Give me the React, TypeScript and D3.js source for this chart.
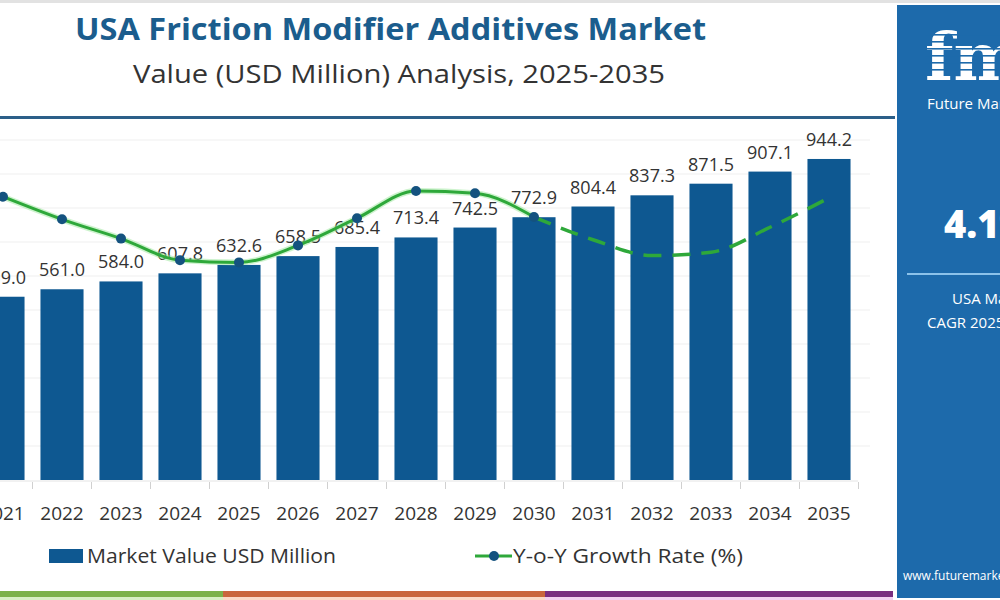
import * as d3 from 'd3';
import React from 'react';

const years = ['2021', '2022', '2023', '2024', '2025', '2026', '2027', '2028', '2029', '2030', '2031', '2032', '2033', '2034', '2035'];
const marketValues = [539.0, 561.0, 584.0, 607.8, 632.6, 658.5, 685.4, 713.4, 742.5, 772.9, 804.4, 837.3, 871.5, 907.1, 944.2];
// y-o-y growth (%)
const growthRates = [4.5, 4.3, 4.13, 3.94, 3.92, 4.07, 4.31, 4.55, 4.53, 4.32, 4.12, 3.98, 4.01, 4.23, 4.49];
const solidUntil = '2030';
const valueTicks = [100, 200, 300, 400, 500, 600, 700, 800, 900, 1000];

const FONT = '"Open Sans", "Noto Sans", sans-serif';

function App() {
    const baseY = 480;
    const topY = 140;

    const x = d3.scaleBand<string>()
        .domain(years)
        .range([-26.5, 858.5])
        .paddingInner(0.27)
        .paddingOuter(0.135);

    const y = d3.scaleLinear().domain([0, 1000]).range([baseY, topY]);
    const y2 = d3.scaleLinear().domain([2, 5]).range([baseY, topY]);

    const cx = (yr: string) => (x(yr) as number) + x.bandwidth() / 2;

    const pts: [number, number][] = years.map((yr, i) => [cx(yr), y2(growthRates[i])]);
    const cut = years.indexOf(solidUntil);
    const line = d3.line().curve(d3.curveMonotoneX);
    const solidPath = line(pts.slice(0, cut + 1)) || '';
    const dashPath = line(pts.slice(cut)) || '';

    const bottomBands = [
        { x0: 0, x1: 223, dark: '#7cb24a', light: '#d8efc4' },
        { x0: 223, x1: 545, dark: '#c9663d', light: '#fbd9c6' },
        { x0: 545, x1: 893, dark: '#7a2e80', light: '#f3d0f0' },
    ];

    return (
        <svg width={1000} height={600} style={{ position: 'absolute', left: 0, top: 0, background: '#fff' }}>
            <rect x={0} y={0} width={1000} height={3} fill="#e2e2e2" />

            {/* titles */}
            <text x={75} y={40} textLength={631} lengthAdjust="spacingAndGlyphs" fontFamily={FONT}
                fontWeight={700} fontSize={30} fill="#1b5d8d">
                USA Friction Modifier Additives Market
            </text>
            <text x={133} y={83} textLength={532} lengthAdjust="spacingAndGlyphs" fontFamily={FONT}
                fontSize={25} fill="#333">
                Value (USD Million) Analysis, 2025-2035
            </text>
            <rect x={0} y={116} width={895} height={3} fill="#2c5f89" />

            {/* gridlines */}
            {valueTicks.map(t => (
                <line key={t} x1={0} x2={870} y1={y(t)} y2={y(t)} stroke="#efefef" strokeWidth={1} />
            ))}

            {/* bars */}
            {years.map((yr, i) => (
                <rect key={yr} x={x(yr)} y={y(marketValues[i])} width={x.bandwidth()}
                    height={baseY - y(marketValues[i])} fill="#0e5891" />
            ))}

            {/* value labels */}
            {years.map((yr, i) => (
                <text key={'v' + yr} x={cx(yr)} y={y(marketValues[i]) - 13} textAnchor="middle"
                    fontFamily={FONT} fontSize={18} fill="#333">
                    {marketValues[i].toFixed(1)}
                </text>
            ))}

            {/* x axis */}
            <line x1={0} x2={858} y1={baseY + 1} y2={baseY + 1} stroke="#e4e4e4" />
            {years.map(yr => (
                <line key={'t' + yr} x1={cx(yr) + x.step() / 2} x2={cx(yr) + x.step() / 2}
                    y1={baseY + 2} y2={baseY + 9} stroke="#d0d0d0" />
            ))}
            {years.map(yr => (
                <text key={'l' + yr} x={cx(yr)} y={520} textAnchor="middle" fontFamily={FONT} fontSize={19} fill="#333">
                    {yr}
                </text>
            ))}

            {/* growth line */}
            <path d={solidPath} fill="none" stroke="#9be89b" strokeWidth={6} strokeOpacity={0.5} />
            <path d={solidPath} fill="none" stroke="#2ea83a" strokeWidth={3} />
            <path d={dashPath} fill="none" stroke="#2ea83a" strokeWidth={3.5} strokeDasharray="18,11" />
            {pts.slice(0, cut + 1).map((p, i) => (
                <circle key={'c' + i} cx={p[0]} cy={p[1]} r={5} fill="#14527f" />
            ))}

            {/* legend */}
            <rect x={49} y={549} width={34} height={14} fill="#0e5891" />
            <text x={87} y={563} textLength={249} lengthAdjust="spacingAndGlyphs" fontFamily={FONT}
                fontSize={20} fill="#333">Market Value USD Million</text>
            <line x1={475} x2={512} y1={556} y2={556} stroke="#2ea83a" strokeWidth={3} />
            <circle cx={494} cy={556} r={5} fill="#14527f" />
            <text x={513} y={563} textLength={230} lengthAdjust="spacingAndGlyphs" fontFamily={FONT}
                fontSize={20} fill="#333">Y-o-Y Growth Rate (%)</text>

            {/* bottom colour strip */}
            {bottomBands.map(b => (
                <g key={b.x0}>
                    <rect x={b.x0} y={591} width={b.x1 - b.x0} height={6} fill={b.dark} />
                    <rect x={b.x0} y={597} width={b.x1 - b.x0} height={3} fill={b.light} />
                </g>
            ))}

            {/* right panel */}
            <rect x={897} y={5} width={110} height={593} fill="#1d6aab" />
            <text x={925} y={80} fontFamily='"DejaVu Serif", serif' fontWeight={700} fontSize={66} fill="#fff">fmi</text>
            {[34, 41, 48, 55, 62, 69].map(s => (
                <rect key={s} x={925} y={s} width={80} height={1.6} fill="#1d6aab" />
            ))}
            <text x={927} y={109} fontFamily={FONT} fontSize={15} fill="#fff">Future Market Insights</text>
            <text x={944} y={238} fontFamily={FONT} fontWeight={800} fontSize={38} fill="#fff">4.1%</text>
            <rect x={907} y={273} width={100} height={2} fill="#8cc2ea" />
            <text x={952} y={304} fontFamily={FONT} fontSize={15} fill="#fff">USA Market</text>
            <text x={927} y={328} fontFamily={FONT} fontSize={15} fill="#fff">CAGR 2025-2035</text>
            <text x={903} y={580} fontFamily={FONT} fontSize={12} fill="#fff">www.futuremarketinsights.com</text>
        </svg>
    );
}

export default App;
